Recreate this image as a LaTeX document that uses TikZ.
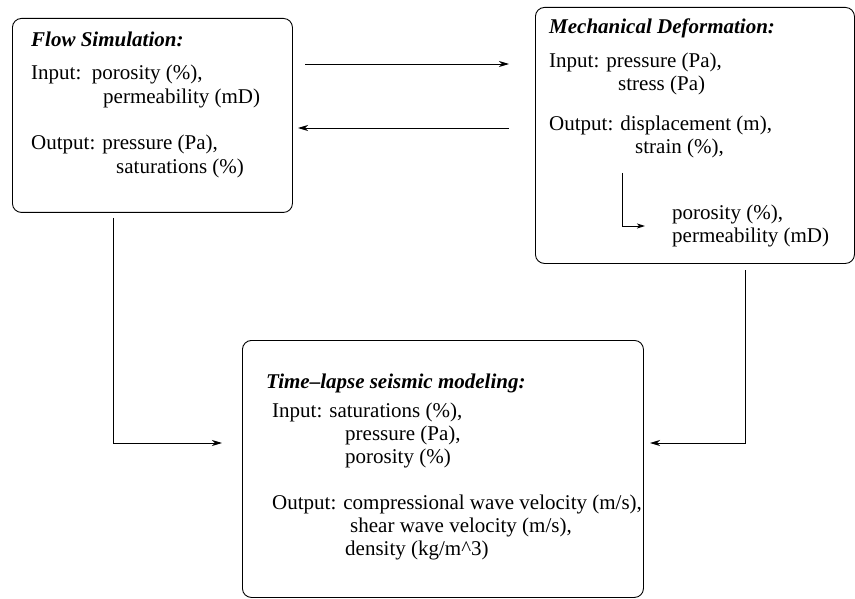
\documentclass[tikz,border=0pt]{standalone}
\usepackage{fontspec}
\setmainfont{Liberation Serif}
\usetikzlibrary{arrows.meta}

\def \boxRadius {9pt}
\def \lineWidth {0.9pt}

\tikzset{
  panel/.style={draw, rounded corners=\boxRadius, line width=\lineWidth, anchor=north west, inner sep=0pt},
  txt/.style={anchor=base west, inner sep=0pt, font=\fontsize{21}{24}\selectfont},
  head/.style={anchor=base west, inner sep=0pt, font=\fontsize{21}{24}\selectfont\bfseries\itshape},
  link/.style={-{Stealth[length=10pt,width=6pt,inset=3pt]}, line width=\lineWidth},
}

\begin{document}
\begin{tikzpicture}[x=1pt,y=-1pt]
      \useasboundingbox (0,0) rectangle (855,599);
      % the three boxes
      \node[panel, minimum width=280pt, minimum height=194pt] (flow) at (12,18) {};
      \node[panel, minimum width=319pt, minimum height=256pt] (mech) at (535,7) {};
      \node[panel, minimum width=401pt, minimum height=257pt] (seis) at (242,340) {};

      % flow simulation
      \node[head] (flowTitle) at (31,47) {Flow Simulation:};
      \node[txt] (flowIn) at (31,80) {Input:\ \ porosity (\%),};
      \node[txt] (flowInB) at (103,104) {permeability (mD)};
      \node[txt] (flowOut) at (31,150) {Output: pressure (Pa),};
      \node[txt] (flowOutB) at (116,174) {saturations (\%)};

      % mechanical deformation
      \node[head] (mechTitle) at (549,34) {Mechanical Deformation:};
      \node[txt] (mechIn) at (549,68) {Input: pressure (Pa),};
      \node[txt] (mechInB) at (618,91) {stress (Pa)};
      \node[txt] (mechOut) at (549,131) {Output: displacement (m),};
      \node[txt] (mechOutB) at (635,154) {strain (\%),};
      \node[txt] (mechPor) at (672,219) {porosity (\%),};
      \node[txt] (mechPerm) at (672,243) {permeability (mD)};

      % time-lapse seismic
      \node[head] (seisTitle) at (266,388) {Time--lapse seismic modeling:};
      \node[txt] (seisIn) at (272,417) {Input: saturations (\%),};
      \node[txt] (seisInB) at (345,440) {pressure (Pa),};
      \node[txt] (seisInC) at (345,463) {porosity (\%)};
      \node[txt] (seisOut) at (272,509) {Output: compressional wave velocity (m/s),};
      \node[txt] (seisOutB) at (350,532) {shear wave velocity (m/s),};
      \node[txt] (seisOutC) at (345,555) {density (kg/m\^{}3)};

      % arrow ends
      \coordinate (fmA) at (305,64);
      \coordinate (fmB) at (509,64);
      \coordinate (mfA) at (509,128);
      \coordinate (mfB) at (298,128);
      \coordinate (fsA) at (113,218);
      \coordinate (fsB) at (222,443);
      \coordinate (msA) at (745,270);
      \coordinate (msB) at (650,443);
      \coordinate (innerA) at (622,173);
      \coordinate (innerB) at (645,226);

      \draw[link] (fmA) -- (fmB);
      \draw[link] (mfA) -- (mfB);
      \draw[link] (fsA) |- (fsB);
      \draw[link] (msA) |- (msB);
      \draw[link, -{Stealth[length=8pt,width=5pt,inset=2pt]}] (innerA) |- (innerB);
   \end{tikzpicture}
\end{document}
